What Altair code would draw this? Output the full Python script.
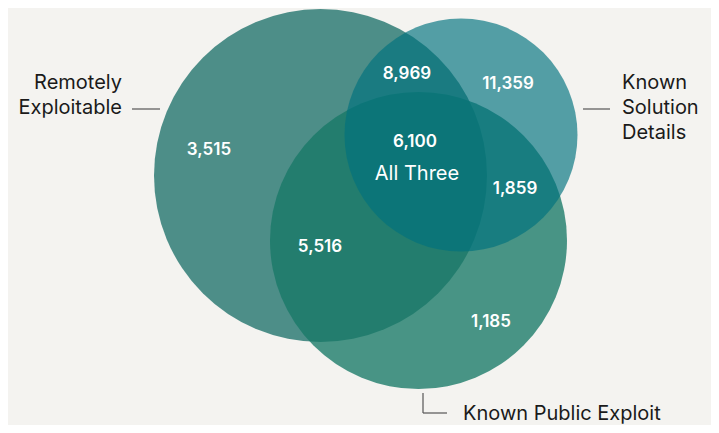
import altair as alt
import pandas as pd

# ---- data ----
sets = ["Remotely Exploitable", "Known Public Exploit", "Known Solution Details"]
region_labels = ["8,969", "11,359", "3,515", "6,100", "1,859", "5,516", "1,185"]
region_names = ["RE+KSD", "KSD only", "RE only", "All three", "KSD+KPE", "RE+KPE", "KPE only"]

# ---- layout (pixel geometry of the diagram) ----
circle_cx = [320.5, 418.5, 461.0]
circle_cy = [175.5, 240.5, 135.0]
circle_r = [166.5, 148.5, 116.5]
circle_color = ["#156c65", "#177967", "#00727e"]
circle_opacity = [0.75, 0.78, 0.66]

label_x = [407, 508, 209, 415, 515, 320, 491]
label_y = [74, 84, 150, 142, 189, 247, 322]

sub_text = ["All Three"]
sub_x = [417]
sub_y = [174]

name_lines = ["Remotely", "Exploitable", "Known", "Solution", "Details", "Known Public Exploit"]
name_x = [122, 122, 622, 622, 622, 463]
name_y = [83, 108, 83, 108, 133, 414]
name_align = ["right", "right", "left", "left", "left", "left"]

lead_x = [132, 583, 423, 423]
lead_x2 = [160, 610, 423, 447]
lead_y = [109, 109, 393, 413]
lead_y2 = [109, 109, 413, 413]

W, H = 703, 417
xs = alt.Scale(domain=[8, 8 + W], nice=False, zero=False)
ys = alt.Scale(domain=[8, 8 + H], nice=False, zero=False, reverse=True)

layers = []
for i, s in enumerate(sets):
    d = pd.DataFrame({"set": [s], "cx": [circle_cx[i]], "cy": [circle_cy[i]],
                      "size": [(2 * circle_r[i]) ** 2]})
    layers.append(
        alt.Chart(d).mark_circle(color=circle_color[i], opacity=circle_opacity[i], stroke=None)
        .encode(x=alt.X("cx:Q", scale=xs, axis=None),
                y=alt.Y("cy:Q", scale=ys, axis=None),
                size=alt.Size("size:Q", scale=None, legend=None))
    )

nums = pd.DataFrame({"t": region_labels, "x": label_x, "y": label_y, "n": region_names})
layers.append(
    alt.Chart(nums).mark_text(color="white", font="Inter", fontSize=17, fontWeight=600,
                              baseline="middle", align="center")
    .encode(x=alt.X("x:Q", scale=xs, axis=None), y=alt.Y("y:Q", scale=ys, axis=None), text="t:N")
)
sub = pd.DataFrame({"t": sub_text, "x": sub_x, "y": sub_y})
layers.append(
    alt.Chart(sub).mark_text(color="white", font="Inter", fontSize=20, fontWeight=400,
                             baseline="middle", align="center")
    .encode(x=alt.X("x:Q", scale=xs, axis=None), y=alt.Y("y:Q", scale=ys, axis=None), text="t:N")
)

names = pd.DataFrame({"t": name_lines, "x": name_x, "y": name_y, "a": name_align})
for al in ["left", "right"]:
    layers.append(
        alt.Chart(names[names.a == al]).mark_text(color="#1a1a1a", font="Inter", fontSize=20,
                                                  baseline="middle", align=al)
        .encode(x=alt.X("x:Q", scale=xs, axis=None), y=alt.Y("y:Q", scale=ys, axis=None), text="t:N")
    )

leads = pd.DataFrame({"x": lead_x, "x2": lead_x2, "y": lead_y, "y2": lead_y2})
layers.append(
    alt.Chart(leads).mark_rule(color="#555555", strokeWidth=1.2)
    .encode(x=alt.X("x:Q", scale=xs, axis=None), x2="x2:Q",
            y=alt.Y("y:Q", scale=ys, axis=None), y2="y2:Q")
)

chart = alt.layer(*layers).properties(
    width=W, height=H, padding=0, autosize=alt.AutoSizeParams(type="none"),
    background="#f4f3f0"
).configure_view(stroke=None)

chart.save("out.html", embed_options={"renderer": "svg", "actions": False})
